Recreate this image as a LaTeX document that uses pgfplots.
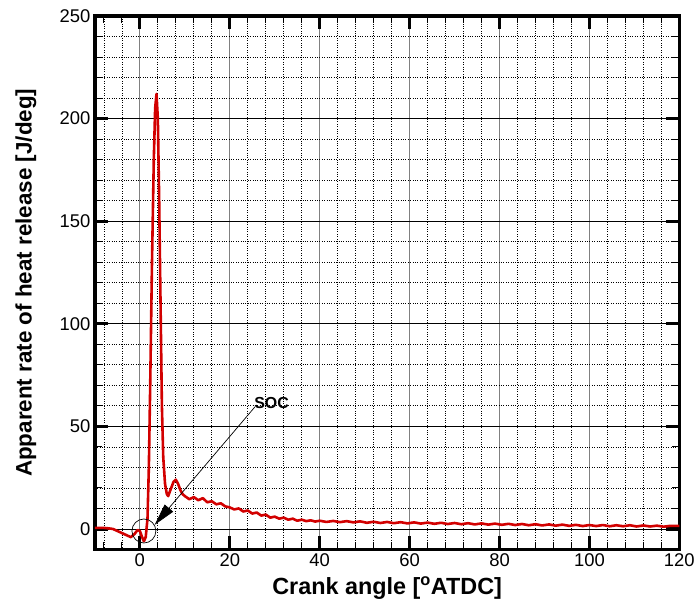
\documentclass[border=0pt]{standalone}
\usepackage{fontspec}
\setmainfont{Liberation Sans}
\usepackage{pgfplots}
\pgfplotsset{compat=1.18}
\usetikzlibrary{arrows.meta}
\begin{document}
\begin{tikzpicture}
\begin{axis}[
 name=ax,
 scale only axis, width=585bp, height=534bp,
 xmin=-10,xmax=120,ymin=-10,ymax=250,
 xtick={-20,0,20,...,120}, ytick={-50,0,50,...,250},
 minor x tick num=4, minor y tick num=4,
 grid=both,
 major x grid style={black!50, line width=0.9bp},
 major y grid style={black, line width=0.7bp},
 minor grid style={black, dotted, line width=0.7bp},
 axis line style={line width=3.2bp, black},
 tick align=inside,
 major tick length=13bp, minor tick length=7bp,
 major tick style={line width=3.2bp, black},
 minor tick style={line width=1bp, black},
 tick label style={font=\fontsize{18.5}{22}\selectfont},
 xticklabel style={yshift=-1bp},
 yticklabel style={xshift=-1bp},
 /pgf/number format/assume math mode=true,
 xlabel={Crank angle [\textsuperscript{o}ATDC]},
 ylabel={Apparent rate of heat release [J/deg]},
 xlabel style={font=\fontsize{23.5}{26}\selectfont\bfseries, at={(axis description cs:0.5,-0.0843)}, anchor=base},
 ylabel style={font=\fontsize{22.5}{26}\selectfont\bfseries, at={(axis description cs:-0.118,0.5)}, anchor=center},
 clip=true,
]
\addplot[line width=2.6bp, color={rgb,255:red,210;green,0;blue,0}, line join=round] coordinates {
(-10,0.5) (-8,0.5) (-7,0.3) (-6,0) (-5,-1) (-4,-2) (-3,-3) (-2,-4) (-1.2,-2.5) (-0.5,-0.5) (0,-1) (0.5,-4) (0.9,-6) (1.3,-4) (1.7,5) (2.0,30) (2.3,70) (2.7,130) (3.1,180) (3.4,205) (3.7,212) (4.0,200) (4.3,160) (4.6,110) (4.9,60) (5.2,35) (5.6,22) (6.0,17) (6.3,16) (6.8,19) (7.5,23) (8.0,24) (8.5,22) (9.0,19) (9.5,17) (10.0,16)
(11,14.5) (12,15.5) (13,14) (14,15) (15,13) (16,13.5) (17,12) (18,12.5) (19,11) (20,10.5) (21,9.5) (22,10) (23,8.5) (24,9) (25,7.5) (26,8) (27,6.5) (28,7) (29,5.5) (30,6) (31,5) (32,5.5) (33,4.5) (34,5) (35,4) (36,4.5) (37,3.8) (38,4.2) (39,3.6) (40,4)
(41.5,3.4) (43,3.9) (44.5,3.3) (46,3.8) (47.5,3.2) (49,3.7) (50.5,3.0) (52,3.5) (53.5,2.9) (55,3.4) (56.5,2.8) (58,3.3) (59.5,2.7) (61,3.2) (62.5,2.6) (64,3.1) (65.5,2.5) (67,3.0) (68.5,2.4) (70,2.9) (71.5,2.3) (73,2.8) (74.5,2.2) (76,2.7) (77.5,2.1) (79,2.6) (80.5,2.0) (82,2.5) (83.5,1.9) (85,2.4) (86.5,1.8) (88,2.3) (89.5,1.7) (91,2.2) (92.5,1.6) (94,2.1) (95.5,1.5) (97,2.0) (98.5,1.4) (100,1.9) (101.5,1.4) (103,1.9) (104.5,1.3) (106,1.8) (107.5,1.3) (109,1.8) (110.5,1.2) (112,1.7) (113.5,1.2) (115,1.6) (116.5,1.1) (118,1.5) (120,1.5)
};
\draw[line width=0.7bp] (axis cs:0.9,-1) circle[radius=12bp];
\draw[line width=0.7bp, -{Triangle[length=22bp,width=11bp]}] (axis cs:25.6,59.5) -- (axis cs:3.3,2);
\node[font=\fontsize{16}{18}\selectfont\bfseries, inner sep=0bp] at (axis cs:29.3,61.5) {SOC};
\end{axis}
\path (ax.south west) ++(-95bp,-52bp) rectangle ++(698bp,602bp);
\end{tikzpicture}
\end{document}
